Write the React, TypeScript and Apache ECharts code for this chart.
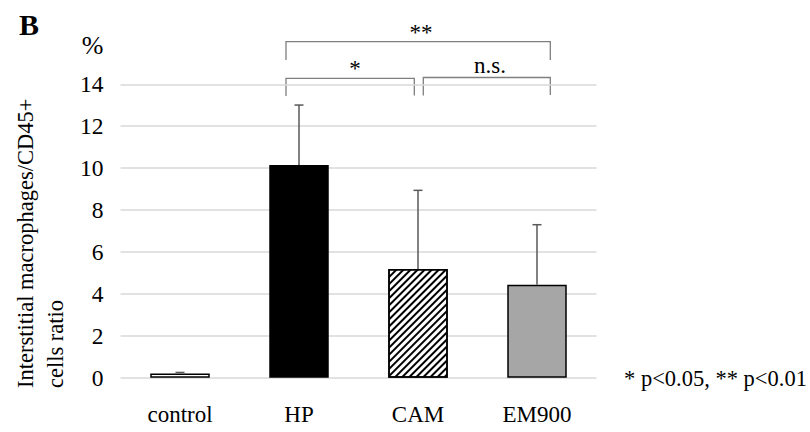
import React, { useEffect, useRef } from "react";
import * as echarts from "echarts";

const categories = ["control", "HP", "CAM", "EM900"];
const means = [0.2, 10.15, 5.19, 4.44];
const errorsUp = [0.05, 2.86, 3.75, 2.86];
const barFills = ["#ffffff", "#000000", "#ffffff", "#a6a6a6"];
const yMin = 0;
const yMax = 14;
const yInterval = 2;
const yTitleLines = ["Interstitial macrophages/CD45+", "cells ratio"];
const sigLabels = ["**", "*", "n.s."];
const footnote = "* p<0.05, ** p<0.01";

const FONT = "'Liberation Serif', 'Times New Roman', serif";

export default function App() {
  const ref = useRef<HTMLDivElement>(null);
  useEffect(() => {
    if (!ref.current) return;
    const chart = echarts.init(ref.current, undefined, { renderer: "svg" });
    const gridLeft = 120.5;
    const gridRight = 213.5;
    const gridTop = 84.3;
    const gridBottom = 54.3;

    const barData = means.map((v, i) => {
      const item: any = {
        value: v,
        itemStyle: { color: barFills[i], borderColor: "#000", borderWidth: 1.5 },
      };
      if (categories[i] === "CAM") {
        item.itemStyle.decal = {
          symbol: "rect",
          symbolSize: 1,
          dashArrayX: [1, 0],
          dashArrayY: [1.6, 2.6],
          rotation: -Math.PI / 4,
          color: "#000",
        };
      }
      return item;
    });

    const errData = means.map((v, i) => [i, v, v + errorsUp[i]]);
    const lineStyle = { stroke: "#7f7f7f", lineWidth: 1.3 };
    const textStyle = (size: number, extra: any = {}) => ({
      font: `${size}px ${FONT}`,
      fill: "#000",
      ...extra,
    });

    const option: any = {
      animation: false,
      grid: { left: gridLeft, right: gridRight, top: gridTop, bottom: gridBottom },
      xAxis: {
        type: "category",
        data: categories,
        axisLine: { show: false },
        axisTick: { show: false },
        axisLabel: { color: "#000", fontFamily: FONT, fontSize: 23, margin: 25 },
      },
      yAxis: {
        type: "value",
        min: yMin,
        max: yMax,
        interval: yInterval,
        axisLine: { show: false },
        axisTick: { show: false },
        axisLabel: { color: "#000", fontFamily: FONT, fontSize: 23.5, margin: 17 },
        splitLine: { lineStyle: { color: "#d9d9d9", width: 1.5 } },
      },
      series: [
        {
          type: "bar",
          data: barData,
          barWidth: "50%",
          z: 2,
        },
        {
          type: "custom",
          z: 3,
          data: errData,
          renderItem: (params: any, api: any) => {
            const x = api.value(0);
            const p0 = api.coord([x, api.value(1)]);
            const p1 = api.coord([x, api.value(2)]);
            const half = 4.5;
            const st = { stroke: "#595959", lineWidth: 1.5 };
            return {
              type: "group",
              children: [
                { type: "line", shape: { x1: p0[0], y1: p0[1], x2: p1[0], y2: p1[1] }, style: st },
                { type: "line", shape: { x1: p1[0] - half, y1: p1[1], x2: p1[0] + half, y2: p1[1] }, style: st },
              ],
            };
          },
        },
      ],
      graphic: [
        { type: "text", x: 19, y: 24, style: { text: "B", font: `bold 30px ${FONT}`, fill: "#000", verticalAlign: "middle" } },
        { type: "text", x: 103.5, y: 45, style: textStyle(26, { text: "%", align: "right", verticalAlign: "middle" }) },
        {
          type: "text",
          x: 25,
          y: 388,
          rotation: Math.PI / 2,
          style: textStyle(22.5, { text: yTitleLines[0], align: "left", verticalAlign: "middle" }),
        },
        {
          type: "text",
          x: 55,
          y: 388,
          rotation: Math.PI / 2,
          style: textStyle(22.5, { text: yTitleLines[1], align: "left", verticalAlign: "middle" }),
        },
        // ** bracket HP - EM900
        {
          type: "polyline",
          shape: { points: [[286, 60], [286, 41.7], [550.3, 41.7], [550.3, 60]] },
          style: { ...lineStyle, fill: null },
        },
        { type: "text", x: 421, y: 32, style: textStyle(23, { text: sigLabels[0], align: "center", verticalAlign: "middle" }) },
        // * bracket HP - CAM
        {
          type: "polyline",
          shape: { points: [[286, 96], [286, 78.3], [414.3, 78.3], [414.3, 95.5]] },
          style: { ...lineStyle, fill: null },
        },
        { type: "text", x: 355, y: 68, style: textStyle(23, { text: sigLabels[1], align: "center", verticalAlign: "middle" }) },
        // n.s. bracket CAM - EM900
        {
          type: "polyline",
          shape: { points: [[423.3, 95.5], [423.3, 77.5], [550.3, 77.5], [550.3, 95]] },
          style: { ...lineStyle, fill: null },
        },
        { type: "text", x: 490, y: 65, style: textStyle(23, { text: sigLabels[2], align: "center", verticalAlign: "middle" }) },
        { type: "text", x: 624, y: 378, style: textStyle(22.5, { text: footnote, align: "left", verticalAlign: "middle" }) },
      ],
    };
    chart.setOption(option);
    return () => chart.dispose();
  }, []);
  return <div ref={ref} style={{ width: 810, height: 432, position: "absolute", left: 0, top: 0 }} />;
}
